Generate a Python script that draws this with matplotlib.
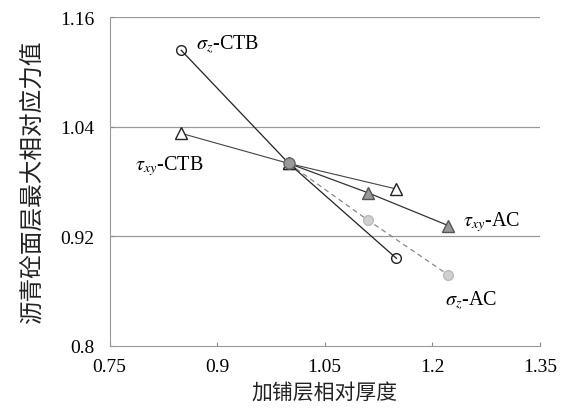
import matplotlib
matplotlib.use("Agg")
import matplotlib.pyplot as plt

plt.rcParams['font.family'] = ['Liberation Serif', 'Noto Sans CJK SC']
plt.rcParams['mathtext.fontset'] = 'stix'

# data
x_ctb = [0.85, 1.0, 1.15]
sz_ctb = [1.124, 1.0, 0.896]
txy_ctb = [1.033, 1.0, 0.972]
x_ac = [1.0, 1.11, 1.222]
txy_ac = [1.0, 0.968, 0.932]
sz_ac = [1.0, 0.938, 0.878]

xticks = [0.75, 0.9, 1.05, 1.2, 1.35]
yticks = [0.8, 0.92, 1.04, 1.16]

fig = plt.figure(figsize=(5.63, 4.10), dpi=100)
ax = fig.add_axes([0.1945, 0.1537, 0.7645, 0.8013])

for y in yticks[1:]:
    ax.axhline(y, color='#999999', lw=0.9, zorder=0)

ax.plot(x_ac, sz_ac, color='#888888', lw=0.9, ls=(0, (4, 3)),
        marker='o', ms=7, mfc='#d0d0d0', mec='#bbbbbb', zorder=2)
ax.plot(x_ac, txy_ac, color='#333333', lw=0.9,
        marker='^', ms=8, mfc='#999999', mec='#555555', zorder=3)
ax.plot(x_ctb, txy_ctb, color='#444444', lw=0.8,
        marker='^', ms=8, mfc='white', mec='#222222', zorder=3)
ax.plot(x_ctb, sz_ctb, color='#222222', lw=0.9,
        marker='o', ms=7, mfc='none', mec='#222222', zorder=3)
ax.plot([1.0], [1.0], ls='none', marker='o', ms=8, mfc='#999999',
        mec='#666666', zorder=4)

fs = 14.5
ax.text(0.871, 1.131, r'$\sigma_z$-CTB', fontsize=fs, va='center')
ax.text(0.786, 0.998, r'$\tau_{xy}$-CTB', fontsize=fs, va='center')
ax.text(1.243, 0.937, r'$\tau_{xy}$-AC', fontsize=fs, va='center')
ax.text(1.218, 0.851, r'$\sigma_z$-AC', fontsize=fs, va='center')

ax.set_xlim(0.75, 1.35)
ax.set_ylim(0.8, 1.16)
ax.set_xticks(xticks)
ax.set_xticklabels(['0.75', '0.9', '1.05', '1.2', '1.35'])
ax.set_yticks(yticks)
ax.set_yticklabels(['0.8', '0.92', '1.04', '1.16'])
ax.tick_params(direction='in', length=3, color='#888888', labelsize=14)
ax.tick_params(axis='y', pad=11)
ax.tick_params(axis='x', pad=9)

for s in ['top', 'right']:
    ax.spines[s].set_visible(False)
for s in ['left', 'bottom']:
    ax.spines[s].set_color('#999999')
    ax.spines[s].set_linewidth(0.8)

ax.set_xlabel('加铺层相对厚度', fontsize=15, labelpad=5, color='#222222',
              fontweight='light')
ax.set_ylabel('沥青砼面层最大相对应力值', fontsize=17, labelpad=12, color='#222222',
              fontweight='light')

fig.savefig('out.png', dpi=100)
